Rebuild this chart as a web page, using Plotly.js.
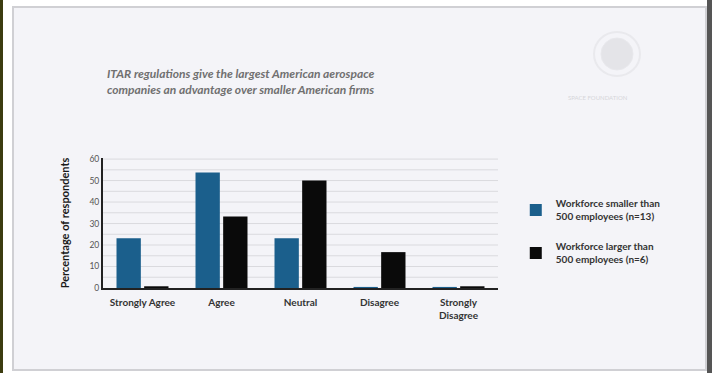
<!DOCTYPE html>
<html><head><meta charset="utf-8">
<script src="https://cdn.plot.ly/plotly-3.0.1.min.js"></script>
<style>html,body{margin:0;padding:0;background:#fff;}#chart{width:712px;height:373px;}</style>
</head><body><div id="chart"></div>
<script>
const categories = ["Strongly Agree", "Agree", "Neutral", "Disagree", "Strongly<br>Disagree"];
const seriesNames = ["Workforce smaller than<br>500 employees (n=13)", "Workforce larger than<br>500 employees (n=6)"];
const smallFirms = [23.1, 53.8, 23.1, 0.5, 0.5];
const largeFirms = [0.8, 33.3, 50.0, 16.7, 0.8];
const yTicks = [0, 10, 20, 30, 40, 50, 60];
const colors = ["#1b5f8c", "#0a0a0a"];

const traces = [
  {type: "bar", x: categories, y: smallFirms, name: seriesNames[0], legendgroup: "small", marker: {color: colors[0]}},
  {type: "bar", x: categories, y: largeFirms, name: seriesNames[1], legendgroup: "large", marker: {color: colors[1]}}
];

const W = 395, H = 130, L = 103, B = 288;
const px = v => (v - L) / W;
const py = v => (B - v) / H;

const layout = {
  width: 712, height: 373,
  paper_bgcolor: "#ffffff", plot_bgcolor: "rgba(0,0,0,0)",
  margin: {l: 103, r: 214, t: 158, b: 85},
  barmode: "group", bargap: 0.3, bargroupgap: 0.12,
  font: {family: "Lato, 'DejaVu Sans', sans-serif", color: "#333"},
  title: {
    text: "<b><i>ITAR regulations give the largest American aerospace<br>companies an advantage over smaller American firms</i></b>",
    font: {size: 12, color: "#707070", family: "Lato, sans-serif"},
    x: 0.01, xanchor: "left", y: 0.79, yanchor: "middle", xref: "paper", yref: "container"
  },
  xaxis: {
    showline: true, linecolor: "#222", linewidth: 2, ticks: "", showgrid: false, ticklabelstandoff: 4,
    tickfont: {size: 10, color: "#333", family: "Lato, sans-serif", weight: "bold"}, fixedrange: true
  },
  yaxis: {
    range: [0, 60.5], tickvals: yTicks, showline: true, linecolor: "#222", linewidth: 2,
    showgrid: false, zeroline: false, ticks: "",
    tickfont: {size: 8.5, color: "#555"}, ticksuffix: "  ",
    title: {text: "<b>Percentage of respondents</b>", font: {size: 11, color: "#1a1a1a"}, standoff: 18}
  },
  showlegend: true,
  legend: {
    x: 1.045, y: 0.75, xanchor: "left", yanchor: "top", bgcolor: "rgba(0,0,0,0)", traceorder: "grouped",
    font: {size: 10, color: "#333", family: "Lato, sans-serif", weight: "bold"}, tracegroupgap: 14, itemwidth: 30
  },
  shapes: [
    {type: "rect", xref: "paper", yref: "paper", x0: px(13), x1: px(706), y0: py(370), y1: py(7), fillcolor: "#f4f4f8", line: {color: "#d0d0d4", width: 2}, layer: "below"},
    {type: "rect", xref: "paper", yref: "paper", x0: px(0), x1: px(3), y0: py(373), y1: py(0), fillcolor: "#3c3c10", line: {width: 0}, layer: "below"},
    {type: "rect", xref: "paper", yref: "paper", x0: px(707), x1: px(712), y0: py(373), y1: py(0), fillcolor: "#555", line: {width: 0}, layer: "below"},
    {type: "circle", xref: "paper", yref: "paper", x0: px(601), x1: px(633), y0: py(70), y1: py(38), fillcolor: "#e4e4e8", line: {color: "#e8e8ec", width: 1}, layer: "below"},
    {type: "circle", xref: "paper", yref: "paper", x0: px(594), x1: px(640), y0: py(76), y1: py(32), fillcolor: "rgba(0,0,0,0)", line: {color: "#e9e9ed", width: 2}, layer: "below"}
  ].concat([5,15,25,35,45,55,10,20,30,40,50,60].map(v => ({type: "line", xref: "paper", yref: "y", x0: 0, x1: 1, y0: v, y1: v, line: {color: "#dadade", width: 1}, layer: "below"}))),
  annotations: [
    {xref: "paper", yref: "paper", x: px(630), y: py(92), text: "SPACE FOUNDATION", showarrow: false, font: {size: 6, color: "#d6d6da"}}
  ]
};
Plotly.newPlot("chart", traces, layout, {displayModeBar: false, staticPlot: true});
</script></body></html>
